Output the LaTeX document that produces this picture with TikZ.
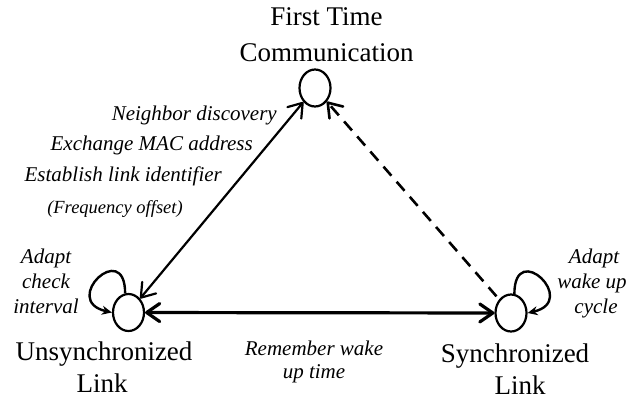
\documentclass[tikz,border=0pt]{standalone}
\usepackage{fontspec}
\setmainfont{Liberation Serif}
\usetikzlibrary{arrows.meta,shapes.geometric}
\begin{document}
\begin{tikzpicture}[x=1pt,y=-1pt,
  state/.style={ellipse,draw,line width=2.2pt,minimum width=31pt,minimum height=37pt,inner sep=0pt},
  big/.style={font=\fontsize{27}{30}\selectfont,anchor=base,inner sep=0pt},
  lab/.style={font=\fontsize{21}{24}\selectfont\itshape,anchor=base,inner sep=0pt},
  labr/.style={lab,anchor=base east},
  small/.style={font=\fontsize{18.5}{21}\selectfont\itshape,anchor=base,inner sep=0pt},
  barb/.style={line width=#1,{Straight Barb[length=13pt,width=18pt,line cap=round,line join=round]}-{Straight Barb[length=13pt,width=18pt,line cap=round,line join=round]}},
  dashbarb/.style={line width=2.6pt,dash pattern=on 12pt off 8pt,-{Straight Barb[length=13pt,width=18pt,line cap=round,line join=round]}},
  selfloop/.style={line width=2.4pt,-{Stealth[length=10pt,width=9pt]}},
]
\useasboundingbox (0,0) rectangle (626,400);

\node[state] (T) at (315,88) {};
\node[state] (L) at (128.5,312.5) {};
\node[state] (R) at (511,313) {};

\node[big] (t1) at (326.5,25) {First Time};
\node[big] (t2) at (326.5,61) {Communication};
\node[big] (u1) at (104,360) {Unsynchronized};
\node[big] (u2) at (102,392) {Link};
\node[big] (s1) at (515,362) {Synchronized};
\node[big] (s2) at (520,394) {Link};

\node[labr] (n1) at (277,120) {Neighbor discovery};
\node[labr] (n2) at (253,150) {Exchange MAC address};
\node[labr] (n3) at (222,181) {Establish link identifier};
\node[small] (n4) at (115,213) {(Frequency offset)};

\node[lab] (a1) at (46,263) {Adapt};
\node[lab] (a2) at (46,288) {check};
\node[lab] (a3) at (46,313) {interval};

\node[lab] (b1) at (594,263) {Adapt};
\node[lab] (b2) at (592,288) {wake up};
\node[lab] (b3) at (596,313) {cycle};

\node[lab] (m1) at (314,355) {Remember wake};
\node[lab] (m2) at (314,378) {up time};

\draw[barb=3.2pt] (L) -- (R);
\draw[barb=2.2pt] (L) -- (T);
\draw[dashbarb,shorten <=4pt] (R) -- (T);

\draw[selfloop] (L.100) .. controls +(0,-55) and +(-52,-12) .. (L.180);
\draw[selfloop] (R.80) .. controls +(0,-55) and +(52,-12) .. (R.0);
\end{tikzpicture}
\end{document}
